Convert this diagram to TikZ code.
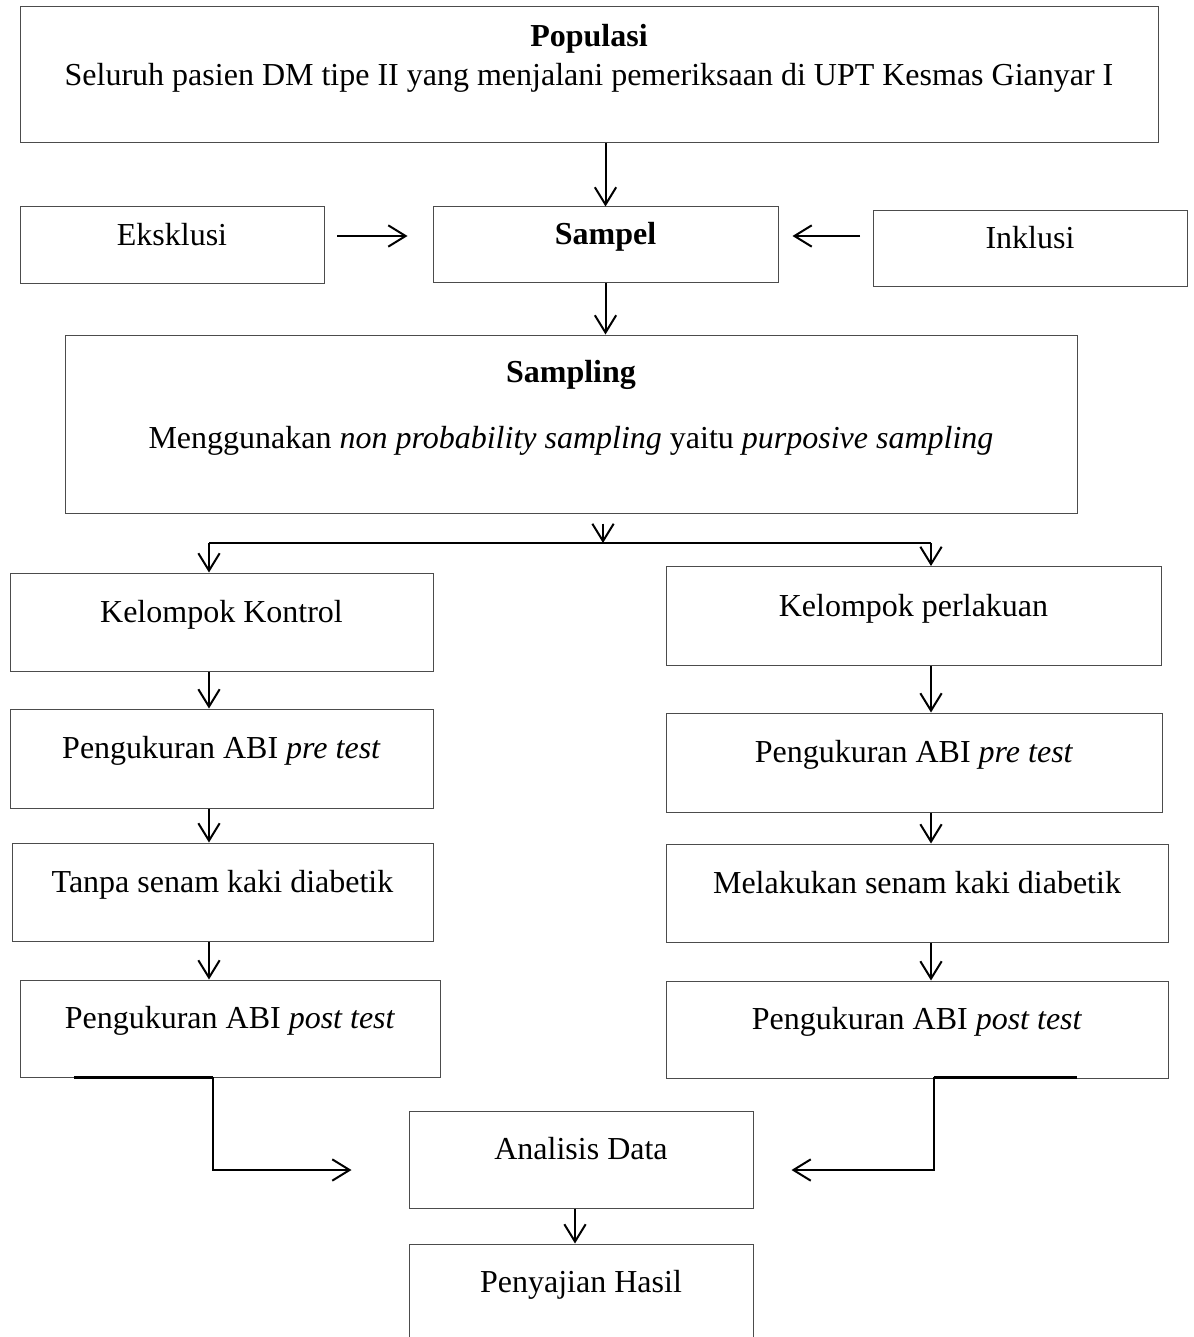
\documentclass[tikz,border=0pt]{standalone}
\usepackage{fontspec}
\setmainfont{Liberation Serif}
\usetikzlibrary{arrows.meta}

\begin{document}
\begin{tikzpicture}[x=0.75pt,y=0.75pt,yscale=-1,xscale=1,
  font=\fontsize{24}{29}\selectfont,
  box/.style={draw=black!70, line width=0.75pt, inner sep=0pt, text height=14pt, text depth=14pt},
  lbl/.style={inner sep=0pt, anchor=base},
  arr/.style={line width=1.5pt, -{Straight Barb[length=13pt,width=16pt]}},
  lin/.style={line width=1.5pt}]

\useasboundingbox (0,0) rectangle (1193,1337);

\node[box, minimum width=853.5pt, minimum height=102pt] (pop) at (589,75) {};
\node[lbl] (pop-title) at (589,47) {\textbf{Populasi}};
\node[lbl] (pop-text) at (589,86) {Seluruh pasien DM tipe II yang menjalani pemeriksaan di UPT Kesmas Gianyar I};

\node[box, minimum width=228pt, minimum height=57.75pt] (eks) at (172,245.5) {Eksklusi};
\node[box, minimum width=258.75pt, minimum height=57pt] (sampel) at (605.5,245) {\textbf{Sampel}};
\node[box, minimum width=235.5pt, minimum height=57pt] (ink) at (1030,249) {Inklusi};

\node[box, minimum width=759pt, minimum height=133.5pt] (sampling) at (571,424) {};
\node[lbl] (sampling-title) at (571,382) {\textbf{Sampling}};
\node[lbl] (sampling-text) at (571,448) {Menggunakan \textit{non probability sampling} yaitu \textit{purposive sampling}};

\node[box, minimum width=317.25pt, minimum height=73.5pt] (kontrol) at (221.5,622) {Kelompok Kontrol};
\node[box, minimum width=317.25pt, minimum height=74.25pt] (preL) at (221.5,758.5) {Pengukuran ABI \textit{pre test}};
\node[box, minimum width=315.75pt, minimum height=73.5pt] (tanpa) at (222.5,892) {Tanpa senam kaki diabetik};
\node[box, minimum width=315pt, minimum height=72.75pt] (postL) at (230,1028.5) {Pengukuran ABI \textit{post test}};

\node[box, minimum width=371.25pt, minimum height=74.25pt] (perlakuan) at (913.5,616) {Kelompok perlakuan};
\node[box, minimum width=372pt, minimum height=74.25pt] (preR) at (914,762.5) {Pengukuran ABI \textit{pre test}};
\node[box, minimum width=376.5pt, minimum height=73.5pt] (melakukan) at (917,893) {Melakukan senam kaki diabetik};
\node[box, minimum width=376.5pt, minimum height=72.75pt] (postR) at (917,1029.5) {Pengukuran ABI \textit{post test}};

\node[box, minimum width=258pt, minimum height=72.75pt] (analisis) at (581,1159.5) {Analisis Data};
\node[box, minimum width=258pt, minimum height=72pt] (hasil) at (581,1292) {Penyajian Hasil};

\draw[arr] (sampel.north |- pop.south) -- (sampel.north);
\coordinate (eksout) at (337,236);
\draw[arr, shorten >=18.75pt] (eksout) -- (eksout -| sampel.west);
\coordinate (inkout) at (860,236);
\draw[arr, shorten >=10.5pt] (inkout) -- (inkout -| sampel.east);
\draw[arr] (sampel.south) -- (sampel.south |- sampling.north);

\coordinate (split) at (603,543);
\coordinate (splitL) at (209,543);
\coordinate (splitR) at (931,543);
\draw[arr, shorten <=7.5pt] (split |- sampling.south) -- (split);
\draw[lin] (splitL) -- (splitR);
\draw[arr] (splitL) -- (splitL |- kontrol.north);
\draw[arr] (splitR) -- (splitR |- perlakuan.north);

\foreach \a/\b in {kontrol/preL, preL/tanpa, tanpa/postL}
  \draw[arr] (splitL |- \a.south) -- (splitL |- \b.north);
\foreach \a/\b in {perlakuan/preR, preR/melakukan, melakukan/postR}
  \draw[arr] (splitR |- \a.south) -- (splitR |- \b.north);

\coordinate (tailL) at (74,1077);
\coordinate (joinL) at (213,1170);
\draw[line width=2.25pt] (tailL) -- (tailL -| joinL);
\draw[arr, shorten >=42.75pt] (tailL -| joinL) -- (joinL) -- (joinL -| analisis.west);
\coordinate (tailR) at (1077,1077);
\coordinate (joinR) at (934,1170);
\draw[line width=2.25pt] (tailR) -- (tailR -| joinR);
\draw[arr, shorten >=28.5pt] (tailR -| joinR) -- (joinR) -- (joinR -| analisis.east);

\coordinate (toHasil) at (575,0);
\draw[arr] (toHasil |- analisis.south) -- (toHasil |- hasil.north);

\end{tikzpicture}
\end{document}
